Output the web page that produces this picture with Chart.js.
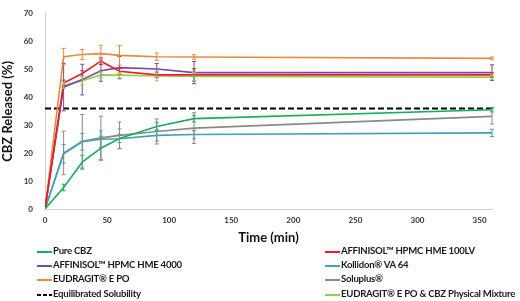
<!DOCTYPE html>
<html>
<head>
<meta charset="utf-8">
<script src="https://cdn.jsdelivr.net/npm/chart.js@4"></script>
<style>
  body { margin: 0; background: #fff; }
  #wrap { position: relative; width: 520px; height: 301px; font-family: Lato, "Open Sans", sans-serif; }
  #box { position: absolute; left: 0; top: 0; width: 520px; height: 246px; }
  .leg { position: absolute; font-size: 9.6px; letter-spacing: -0.25px; font-weight: bold; color: #1a1a1a; white-space: nowrap; line-height: 12px; height: 12px; }
  .leg i { position: absolute; left: 0; top: 6px; width: 15px; height: 2px; }
  .leg span { position: absolute; left: 16px; top: 0; }
</style>
</head>
<body>
<div id="wrap">
  <div id="box"><canvas id="myChart"></canvas></div>
  <div id="legend"></div>
</div>
<script>
// sampling times (min)
const times = [0, 15, 30, 45, 60, 90, 120, 360];

const pureCbz = [0, 7.7, 16.8, 21.8, 25.3, 29.6, 32.4, 35.6];
const pureCbzErr = [0, 1.2, 2.5, 4.3, 1.5, 1.5, 1.2, 0.8];
const hme100lv = [0, 45.2, 48.6, 53.0, 49.4, 48.1, 48.1, 48.1];
const hme100lvErr = [0, 1.0, 1.0, 1.2, 1.0, 1.0, 2.2, 0.8];
const hme4000 = [0, 43.7, 46.4, 49.6, 50.7, 50.2, 48.9, 48.9];
const hme4000Err = [0, 8.5, 5.5, 3.8, 4.0, 2.0, 4.0, 2.8];
const kollidon = [0, 19.8, 24.1, 25.0, 25.2, 26.4, 26.7, 27.3];
const kollidonErr = [0, 3.3, 3.0, 3.0, 3.5, 2.0, 1.5, 1.3];
const eudragit = [0, 54.6, 55.4, 55.7, 55.1, 54.6, 54.5, 54.0];
const eudragitErr = [0, 3.0, 1.8, 3.0, 3.5, 1.3, 0.8, 0.5];
const soluplus = [0, 20.1, 24.3, 25.5, 26.4, 27.8, 29.0, 33.2];
const soluplusErr = [0, 7.8, 9.6, 7.8, 4.8, 4.5, 5.5, 2.7];
const physMix = [0, 44.3, 46.0, 48.1, 48.0, 47.7, 47.5, 47.3];
const physMixErr = [0, 1.0, 1.5, 1.0, 1.0, 1.7, 1.5, 0.8];

const solubilityTimes = [0, 360];
const solubility = [36, 36];

const xTicks = [0, 50, 100, 150, 200, 250, 300, 350];
const yTicks = [0, 10, 20, 30, 40, 50, 60, 70];

function pts(xs, ys) {
    return xs.map(function (x, i) { return { x: x, y: ys[i] }; });
}

function series(label, ys, err, color) {
    return {
        label: label,
        data: pts(times, ys),
        err: err,
        borderColor: color,
        backgroundColor: color,
        borderWidth: 1.6,
        pointRadius: 0,
        tension: 0
    };
}

const datasets = [
    series('Pure CBZ', pureCbz, pureCbzErr, '#17b05a'),
    series('AFFINISOL\u2122 HPMC HME 100LV', hme100lv, hme100lvErr, '#ee1c25'),
    series('AFFINISOL\u2122 HPMC HME 4000', hme4000, hme4000Err, '#7a4a9e'),
    series('Kollidon\u00ae VA 64', kollidon, kollidonErr, '#3fa3b8'),
    series('EUDRAGIT\u00ae E PO', eudragit, eudragitErr, '#e88a3c'),
    series('Soluplus\u00ae', soluplus, soluplusErr, '#8a8a8a'),
    {
        label: 'Equilibrated Solubility',
        data: pts(solubilityTimes, solubility),
        borderColor: '#000',
        backgroundColor: '#000',
        borderWidth: 2,
        borderDash: [6, 3],
        pointRadius: 0
    },
    series('EUDRAGIT\u00ae E PO & CBZ Physical Mixture', physMix, physMixErr, '#92d050')
];

// error bars, drawn through the scales
const errorBars = {
    id: 'errorBars',
    afterDatasetsDraw: function (chart) {
        const ctx = chart.ctx;
        const xs = chart.scales.x, ys = chart.scales.y;
        chart.data.datasets.forEach(function (ds) {
            if (!ds.err) return;
            ctx.save();
            ctx.strokeStyle = ds.borderColor;
            ctx.lineWidth = 1;
            ds.data.forEach(function (p, i) {
                const e = ds.err[i];
                if (!e) return;
                const px = xs.getPixelForValue(p.x);
                const top = ys.getPixelForValue(p.y + e);
                const bot = ys.getPixelForValue(p.y - e);
                ctx.beginPath();
                ctx.moveTo(px, top); ctx.lineTo(px, bot);
                ctx.moveTo(px - 2, top); ctx.lineTo(px + 2, top);
                ctx.moveTo(px - 2, bot); ctx.lineTo(px + 2, bot);
                ctx.stroke();
            });
            ctx.restore();
        });
    }
};

const tickFont = { family: 'Lato, sans-serif', size: 8, weight: 'bold' };
const titleFont = { family: 'Lato, sans-serif', size: 13, weight: 'bold' };

new Chart(document.getElementById('myChart'), {
    type: 'line',
    data: { datasets: datasets },
    options: {
        responsive: true,
        maintainAspectRatio: false,
        animation: false,
        layout: { padding: { top: 4, right: 28, left: 0, bottom: 0 } },
        plugins: { legend: { display: false }, tooltip: { enabled: false } },
        scales: {
            x: {
                type: 'linear',
                min: 0,
                max: 360,
                afterBuildTicks: function (scale) {
                    scale.ticks = xTicks.map(function (v) { return { value: v }; });
                },
                afterFit: function (scale) { scale.height = 37; },
                grid: { display: false, drawTicks: true, tickLength: 3, color: '#d9d9d9' },
                border: { color: '#d0d0d0' },
                ticks: { font: tickFont, color: '#333', padding: 4, maxRotation: 0 },
                title: { display: true, text: 'Time (min)', font: titleFont, color: '#111', padding: { top: 2, bottom: 0 } }
            },
            y: {
                min: 0,
                max: 70,
                afterBuildTicks: function (scale) {
                    scale.ticks = yTicks.map(function (v) { return { value: v }; });
                },
                afterFit: function (scale) { scale.width = 45; },
                grid: { display: false, tickLength: 3 },
                border: { color: '#d0d0d0' },
                ticks: { font: tickFont, color: '#333', padding: 9 },
                title: { display: true, text: 'CBZ Released (%)', font: titleFont, color: '#111', padding: 0 }
            }
        }
    },
    plugins: [errorBars]
});

// two column legend like the original
const legendPos = [
    [37, 245], [325, 245],
    [37, 259], [325, 259],
    [37, 273], [325, 273],
    [37, 288], [325, 288]
];
const legendEl = document.getElementById('legend');
datasets.forEach(function (ds, i) {
    const d = document.createElement('div');
    d.className = 'leg';
    d.style.left = legendPos[i][0] + 'px';
    d.style.top = legendPos[i][1] + 'px';
    let swatch;
    if (ds.borderDash) {
        swatch = '<i style="background:repeating-linear-gradient(90deg,' + ds.borderColor + ' 0 4px,transparent 4px 6px)"></i>';
    } else {
        swatch = '<i style="background:' + ds.borderColor + '"></i>';
    }
    d.innerHTML = swatch + '<span>' + ds.label.replace('&', '&amp;') + '</span>';
    legendEl.appendChild(d);
});
</script>
</body>
</html>
